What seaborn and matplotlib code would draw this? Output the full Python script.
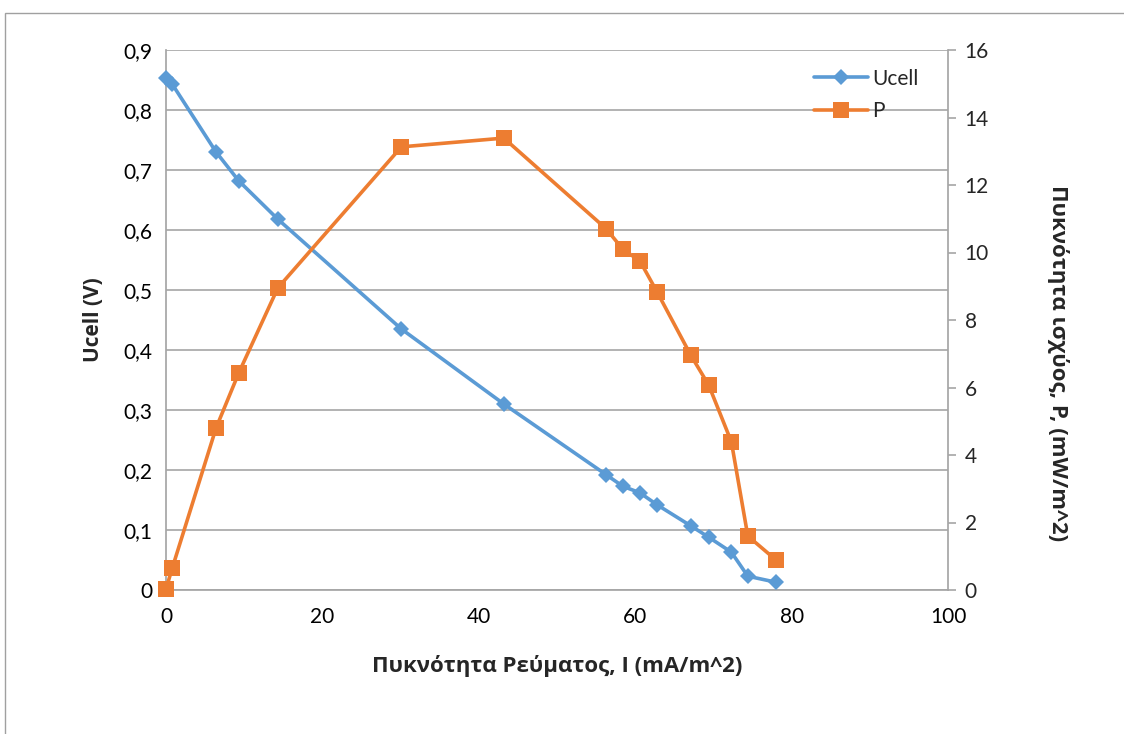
import matplotlib
matplotlib.use("Agg")
import matplotlib.pyplot as plt
import seaborn as sns
import pandas as pd
from matplotlib.patches import Rectangle
from matplotlib.ticker import FuncFormatter, MultipleLocator

# Data
current = [0.0, 0.8, 6.4, 9.3, 14.3, 30.1, 43.2, 56.3, 58.4, 60.6, 62.8, 67.1, 69.4, 72.3, 74.4, 78.0]
ucell = [0.853, 0.843, 0.730, 0.682, 0.618, 0.435, 0.310, 0.192, 0.173, 0.162, 0.142, 0.107, 0.088, 0.063, 0.023, 0.013]
power = [0.03, 0.65, 4.80, 6.43, 8.95, 13.13, 13.39, 10.70, 10.10, 9.75, 8.83, 6.96, 6.07, 4.39, 1.60, 0.89]

x_label = "Πυκνότητα Ρεύματος, I (mA/m^2)"
y_label = "Ucell (V)"
y2_label = "Πυκνότητα ισχύος, P, (mW/m^2)"

df = pd.DataFrame({"I": current, "Ucell": ucell, "P": power})

sns.set_theme(style="white")
plt.rcParams["font.family"] = ["Lato", "Open Sans", "DejaVu Sans"]
label_font = ["Open Sans", "DejaVu Sans"]

blue = "#5B9BD5"
orange = "#ED7D31"
grid_c = "#A6A6A6"

fig = plt.figure(figsize=(11.24, 7.34), dpi=100)
ax = fig.add_axes([166 / 1124, 1 - 590 / 734, (948 - 166) / 1124, (590 - 50) / 734])

# outer chart border
fig.patches.append(Rectangle((5 / 1124, -0.1), 1.2, 1 - 13 / 734 + 0.1, transform=fig.transFigure,
                             fill=False, edgecolor="#A0A0A0", linewidth=1.0, zorder=0))

sns.lineplot(data=df, x="I", y="Ucell", ax=ax, color=blue, linewidth=2.6, marker="D",
             markersize=8, markeredgewidth=0, label="Ucell", legend=False, zorder=3, clip_on=False)
ax2 = ax.twinx()
sns.lineplot(data=df, x="I", y="P", ax=ax2, color=orange, linewidth=2.6, marker="s",
             markersize=11, markeredgewidth=0, label="P", legend=False, zorder=3, clip_on=False)

ax.set_xlim(0, 100)
ax.set_ylim(0, 0.9)
ax2.set_ylim(0, 16)
ax.xaxis.set_major_locator(MultipleLocator(20))
ax.yaxis.set_major_locator(MultipleLocator(0.1))
ax2.yaxis.set_major_locator(MultipleLocator(2))

fmt = FuncFormatter(lambda v, p: ("%g" % round(v, 2)).replace(".", ","))
ax.yaxis.set_major_formatter(fmt)

ax.grid(axis="y", color=grid_c, linewidth=1.2)
ax.grid(axis="x", visible=False)
ax.set_axisbelow(True)

for a in (ax, ax2):
    for s in a.spines.values():
        s.set_visible(False)
ax.spines["left"].set_visible(True)
ax.spines["left"].set_color(grid_c)
ax.spines["bottom"].set_visible(True)
ax.spines["bottom"].set_color(grid_c)
ax2.spines["right"].set_visible(True)
ax2.spines["right"].set_color(grid_c)

ax.tick_params(axis="both", length=0, labelsize=15, colors="black", pad=10)
ax.tick_params(axis="x", pad=12)
ax2.tick_params(axis="y", length=6, width=1.2, color=grid_c, labelsize=15, pad=6, right=True)

ax.set_xlabel(x_label, fontsize=16, fontweight="bold", family=label_font)
ax.xaxis.set_label_coords(0.5, -0.12)
ax.set_ylabel(y_label, fontsize=15, fontweight="bold", labelpad=14, family=label_font)
ax2.set_ylabel(y2_label, fontsize=16, fontweight="bold", rotation=-90, family=label_font,
               va="center", ha="center")
ax2.yaxis.set_label_coords(1.141, 0.42)

h1, l1 = ax.get_legend_handles_labels()
h2, l2 = ax2.get_legend_handles_labels()
leg = ax2.legend(h1 + h2, l1 + l2, loc="upper left", bbox_to_anchor=(0.805, 1.0), frameon=False,
                 fontsize=15, handlelength=2.6, labelspacing=0.6, handletextpad=0.2)

fig.savefig("out.png", dpi=100)
